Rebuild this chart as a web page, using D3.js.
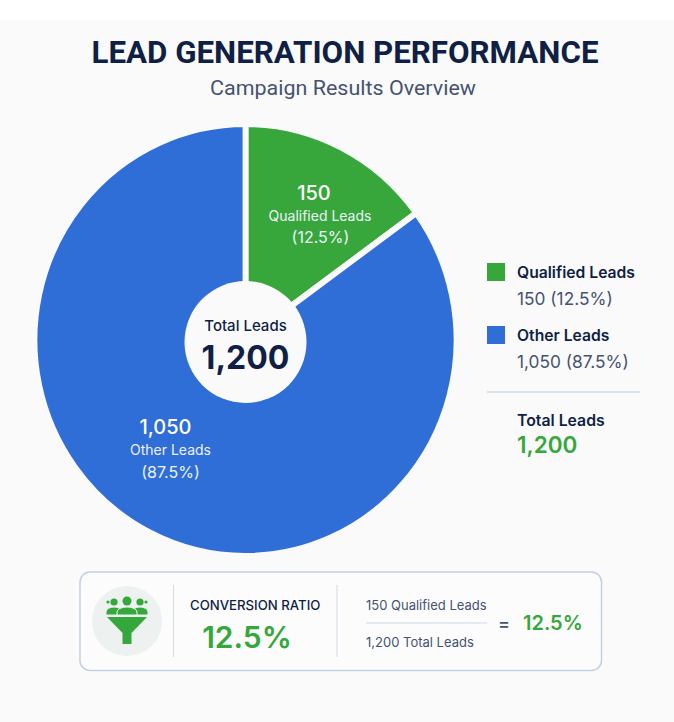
<!DOCTYPE html>
<html>
<head>
<meta charset="utf-8">
<script src="https://cdn.jsdelivr.net/npm/d3@7"></script>
<style>
  html, body { margin: 0; padding: 0; background: #fff; }
  svg { display: block; }
  text { font-family: Inter, "Noto Sans", sans-serif; }
</style>
</head>
<body>
<div id="graphicContainer"></div>
<script>
const categories = ["Qualified Leads", "Other Leads"]
const leads = [150, 1050]
const percentLabels = ["12.5%", "87.5%"]
// the wedge in the picture is drawn wider than its 12.5% label, so the
// arc is driven by the share read off the picture and not by the lead count
const drawnShare = [15, 85]
const totalLeads = 1200
const colors = ["#37a73b", "#2f6ed6"]

const width = 674
const height = 722
const bg = "#fafafb"
const navy = "#0f1f45"
const slate = "#45536f"
const green = "#34a83a"
const fmt = d3.format(",")

const svg = d3.select("#graphicContainer")
  .append("svg")
  .attr("width", width)
  .attr("height", height)
  .attr("viewBox", [0, 0, width, height])

svg.append("rect")
  .attr("y", 20)
  .attr("width", width)
  .attr("height", height - 20)
  .attr("fill", bg)

function label(g, x, y, str, size, weight, fill, anchor) {
  return g.append("text")
    .attr("x", x)
    .attr("y", y)
    .attr("font-size", size)
    .attr("font-weight", weight)
    .attr("fill", fill)
    .attr("text-anchor", anchor || "start")
    .text(str)
}

// heading
label(svg, 345, 63, "LEAD GENERATION PERFORMANCE", 31, 700, navy, "middle")
  .style("font-family", "Roboto")
  .attr("textLength", 507)
  .attr("lengthAdjust", "spacingAndGlyphs")
label(svg, 343, 95, "Campaign Results Overview", 21, 400, slate, "middle")
  .style("font-family", "Roboto")
  .attr("textLength", 266)
  .attr("lengthAdjust", "spacingAndGlyphs")

// pie, very slightly narrower than tall like the picture
const cx = 245.5
const cy = 340
const radius = 216

const pie = d3.pie().sort(null).value(d => d)
const arc = d3.arc().innerRadius(0).outerRadius(radius)

const chart = svg.append("g").attr("transform", `translate(${cx},${cy})`)

chart.append("g")
  .attr("transform", "scale(0.977,1)")
  .selectAll("path")
  .data(pie(drawnShare))
  .join("path")
  .attr("d", arc)
  .attr("fill", (d, i) => colors[i])
  .attr("stroke", bg)
  .attr("stroke-width", 6)
  .attr("stroke-linejoin", "miter")

chart.append("circle")
  .attr("cy", 2)
  .attr("r", 61)
  .attr("fill", bg)

label(chart, 0, -9, "Total Leads", 15, 500, navy, "middle")
label(chart, 0, 29, fmt(totalLeads), 32, 700, navy, "middle")

// slice labels
const numberPos = [[68.5, -140], [-80, 94]]
const captionPos = [[74.5, -119], [-75, 115]]
const percentPos = [[75, -97], [-75, 138]]
categories.forEach((c, i) => {
  label(chart, numberPos[i][0], numberPos[i][1], fmt(leads[i]), 20, 500, "#fff", "middle")
  label(chart, captionPos[i][0], captionPos[i][1], c, 14, 400, "#eef3fb", "middle")
  label(chart, percentPos[i][0], percentPos[i][1], `(${percentLabels[i]})`, 16, 400, "#eef3fb", "middle")
})

// legend
const legend = svg.append("g")
const legendY = [263, 326]
categories.forEach((c, i) => {
  legend.append("rect")
    .attr("x", 487)
    .attr("y", legendY[i])
    .attr("width", 18)
    .attr("height", 18)
    .attr("fill", colors[i])
  label(legend, 517, legendY[i] + 15, c, 15.7, 600, navy)
  label(legend, 517, legendY[i] + 42, `${fmt(leads[i])} (${percentLabels[i]})`, 17.3, 400, slate)
})
legend.append("line")
  .attr("x1", 487).attr("x2", 640)
  .attr("y1", 392).attr("y2", 392)
  .attr("stroke", "#cfdae6")
  .attr("stroke-width", 1.5)
label(legend, 517, 426, "Total Leads", 15.8, 600, navy)
label(legend, 517, 453, fmt(totalLeads), 22.5, 600, green)

// conversion panel
const panel = svg.append("g")
panel.append("rect")
  .attr("x", 80).attr("y", 572)
  .attr("width", 521.5).attr("height", 98.5)
  .attr("rx", 10)
  .attr("fill", "#fcfcfd")
  .attr("stroke", "#c3d0e2")
  .attr("stroke-width", 1.5)

panel.append("circle")
  .attr("cx", 127).attr("cy", 621)
  .attr("r", 35)
  .attr("fill", "#edf1ef")

// funnel with three people on top
const icon = panel.append("g").attr("transform", "translate(127,621)").attr("fill", green)
icon.append("path").attr("d", "M-20,-4H20L4.5,12V23H-4.5V12Z")
;[[-19, -19, 1.6], [19, -19, 1.6]].forEach(p => {
  icon.append("circle").attr("cx", p[0]).attr("cy", p[1]).attr("r", p[2])
})
;[[-13, -19, 3.6, 8], [13, -19, 3.6, 8], [0, -20, 4.5, 10]].forEach(p => {
  icon.append("path")
    .attr("d", `M${p[0] - p[3]},-6v-3a${p[3]},5 0 0 1 ${p[3] * 2},0v3Z`)
    .attr("stroke", "#edf1ef")
    .attr("stroke-width", 1)
  icon.append("circle").attr("cx", p[0]).attr("cy", p[1]).attr("r", p[2])
})

panel.append("line").attr("x1", 173.5).attr("x2", 173.5).attr("y1", 585).attr("y2", 657).attr("stroke", "#d3dbe5")
panel.append("line").attr("x1", 337).attr("x2", 337).attr("y1", 585).attr("y2", 657).attr("stroke", "#d3dbe5")

label(panel, 190, 610, "CONVERSION RATIO", 13.2, 500, navy)
label(panel, 247, 648, "12.5%", 30, 600, green, "middle")

label(panel, 366, 610, `${leads[0]} ${categories[0]}`, 13, 400, slate)
label(panel, 366, 647, `${fmt(totalLeads)} Total Leads`, 13, 400, slate)
panel.append("line").attr("x1", 366).attr("x2", 487).attr("y1", 623).attr("y2", 623).attr("stroke", "#cfd9e6")
label(panel, 504, 630, "=", 18, 500, slate, "middle")
label(panel, 523, 630, "12.5%", 20, 600, green)
</script>
</body>
</html>
